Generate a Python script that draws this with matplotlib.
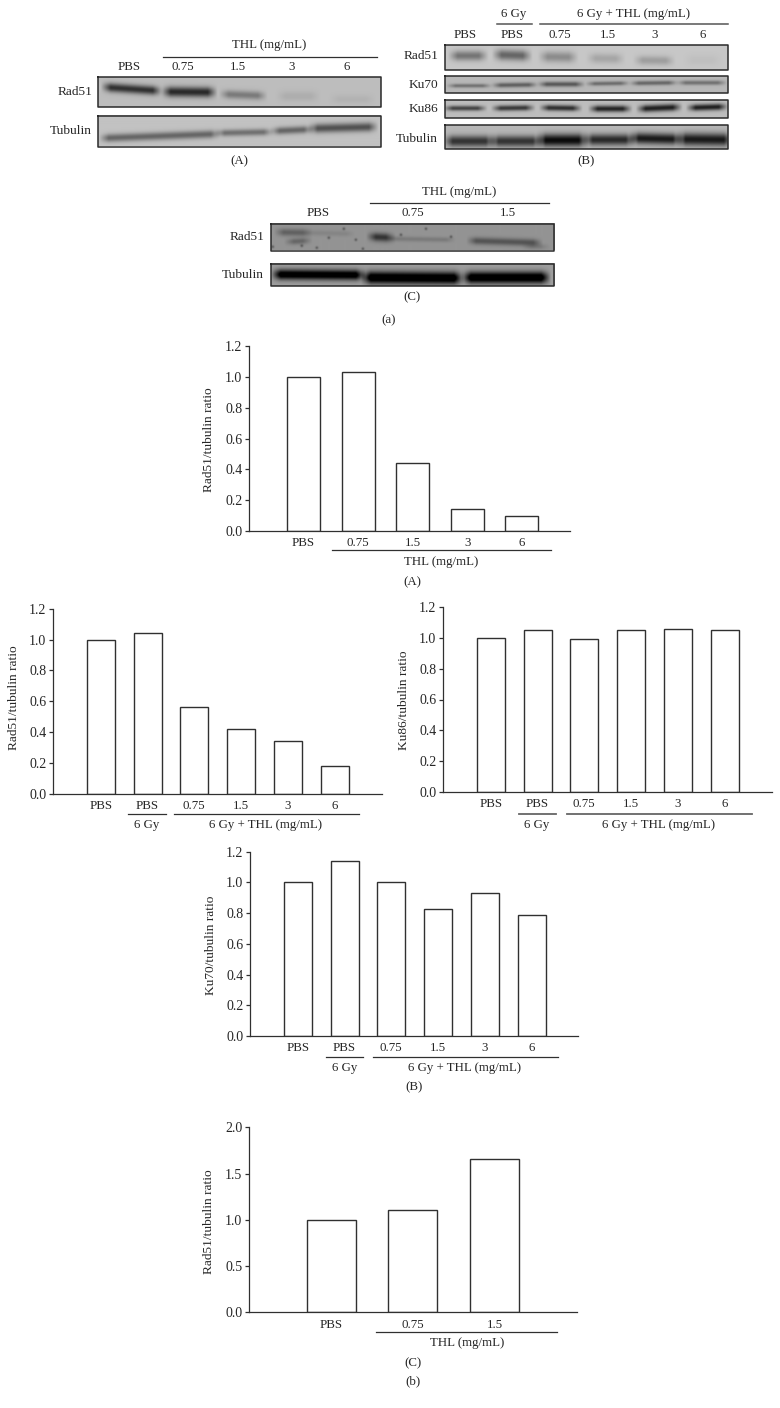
import numpy as np
import matplotlib
matplotlib.use('Agg')
import matplotlib.pyplot as plt

plt.rcParams['font.family'] = ['Liberation Serif', 'DejaVu Serif']

W, H = 780, 1408
TEXT = '#262626'
LINE = '#303030'

# bar values
doses_a = ['PBS', '0.75', '1.5', '3', '6']
rad51_a = [1.0, 1.03, 0.44, 0.14, 0.10]

doses_b = ['PBS', 'PBS', '0.75', '1.5', '3', '6']
rad51_b = [1.0, 1.04, 0.56, 0.42, 0.34, 0.18]
ku86_b = [1.0, 1.05, 0.99, 1.05, 1.06, 1.05]
ku70_b = [1.0, 1.14, 1.0, 0.83, 0.93, 0.79]

doses_c = ['PBS', '0.75', '1.5']
rad51_c = [1.0, 1.11, 1.66]

ticks_12 = [0.0, 0.2, 0.4, 0.6, 0.8, 1.0, 1.2]
ticks_20 = [0.0, 0.5, 1.0, 1.5, 2.0]

# blot bands: x0, x1, y at x0, y at x1, half thickness, darkness (picture pixels)
a_rad51 = [(105, 157, 87, 90.5, 3.2, 0.55), (165, 212, 91.5, 92, 3.6, 0.58), (223, 262, 94, 95.5, 3.0, 0.26),
           (280, 315, 96, 96, 3.5, 0.06), (333, 370, 99, 99, 3, 0.04)]
a_tub = [(103, 215, 138.5, 134.5, 2.8, 0.36), (219, 268, 133.5, 132.5, 2.4, 0.32), (274, 308, 131.5, 130, 2.6, 0.36),
         (312, 373, 129, 127.5, 3.2, 0.44)]
b_rad51 = [(452, 483, 55.5, 55.5, 3.5, 0.32), (496, 527, 54.5, 55.5, 3.8, 0.38), (542, 573, 56.5, 57, 3.8, 0.23),
           (590, 620, 58, 58.5, 3.5, 0.13), (637, 670, 60, 60.5, 3.2, 0.16), (687, 717, 60, 60, 4, 0.03)]
b_ku70 = [(450, 487, 85.5, 85.5, 1.4, 0.28), (495, 533, 85, 84.5, 1.7, 0.35), (541, 580, 84, 84, 1.8, 0.38),
          (589, 625, 83.5, 83, 1.5, 0.30), (633, 673, 83, 82.5, 1.6, 0.32), (680, 722, 82.5, 82.5, 1.6, 0.28)]
b_ku86 = [(447, 482, 108, 108, 1.8, 0.48), (495, 530, 108, 107.5, 2, 0.52), (543, 577, 107.5, 108, 2.1, 0.56),
          (592, 627, 108.5, 108.5, 2.3, 0.60), (640, 677, 108.5, 107, 2.5, 0.62), (690, 723, 107.5, 106.5, 2.3, 0.62)]
b_tub = [(447, 490, 141, 141, 4, 0.52), (493, 537, 141, 141, 4, 0.52), (540, 583, 140, 140, 4.5, 0.68),
         (587, 630, 139.5, 139.5, 4, 0.56), (633, 677, 138, 139, 4, 0.62), (680, 728, 139, 139.5, 4.5, 0.62)]
c_rad51 = [(278, 307, 232.5, 233, 2.6, 0.20), (288, 307, 242, 241, 2.2, 0.18), (307, 350, 233, 234, 2, 0.06),
           (370, 390, 237, 238, 3, 0.38), (390, 450, 239, 240, 1.8, 0.10), (470, 537, 241, 243, 2.6, 0.25),
           (525, 545, 247, 247, 2, 0.08)]
c_tub = [(275, 360, 274.5, 275, 3.5, 0.72), (365, 458, 277.5, 278, 4.2, 0.76), (465, 545, 277.5, 277.5, 4, 0.76)]
c_specks = [(343, 229), (355, 240), (328, 238), (316, 248), (272, 247), (400, 235), (450, 237), (425, 229),
            (301, 246), (362, 249)]


def draw_blot(x0, x1, y0, y1, bg, bands, specks=()):
    xs = np.arange(x0, x1, 0.5)
    ys = np.arange(y0, y1, 0.5)
    xx, yy = np.meshgrid(xs, ys)
    img = np.full(xx.shape, bg, dtype=float)
    for bx0, bx1, by0, by1, th, dark in bands:
        yc = by0 + (by1 - by0) * (xx - bx0) / (bx1 - bx0)
        env = np.clip((xx - bx0 + 5) / 10, 0, 1) * np.clip((bx1 - xx + 5) / 10, 0, 1)
        img -= dark * env * np.exp(-((yy - yc) / (th * 1.4)) ** 2)
    for sx, sy in specks:
        img -= 0.22 * np.exp(-((xx - sx) ** 2 + (yy - sy) ** 2) / 2.0)
    bg_ax.imshow(np.clip(img, 0, 1), cmap='gray', vmin=0, vmax=1, extent=(x0, x1, y1, y0),
                 aspect='auto', interpolation='bilinear', zorder=1)
    bg_ax.plot([x0, x1, x1, x0, x0], [y0, y0, y1, y1, y0], color='#2a2a2a', lw=1.1, zorder=2)


def label(x, y, s, ha='center', rot=0, size=9.3):
    bg_ax.text(x, y, s, ha=ha, va='center', rotation=rot, fontsize=size, color=TEXT, zorder=3)


def rule(x0, x1, y, color=LINE, lw=0.9):
    bg_ax.plot([x0, x1], [y, y], color=color, lw=lw, zorder=2)


def bar_panel(left, right, top, bottom, first, step, width, cats, vals, ticks, ylab, ylab_x, ylab_y):
    ax = fig.add_axes([left / W, 1 - bottom / H, (right - left) / W, (bottom - top) / H])
    ax.patch.set_alpha(0)
    pos = np.arange(len(vals))
    ax.bar(pos, vals, width=width / step, facecolor='white', edgecolor=LINE, linewidth=1.0)
    ax.set_xlim((left - first) / step, (right - first) / step)
    ax.set_ylim(ticks[0], ticks[-1])
    ax.set_xticks(pos)
    ax.set_xticklabels(cats, fontsize=9.3, color=TEXT)
    ax.set_yticks(ticks)
    ax.set_yticklabels(['%.1f' % t for t in ticks], fontsize=10, color=TEXT)
    ax.tick_params(axis='x', length=0, pad=4.5)
    ax.tick_params(axis='y', length=3, width=0.9, color=LINE, pad=2)
    ax.spines['top'].set_visible(False)
    ax.spines['right'].set_visible(False)
    ax.spines['left'].set_color(LINE)
    ax.spines['bottom'].set_color(LINE)
    ax.spines['left'].set_linewidth(0.9)
    ax.spines['bottom'].set_linewidth(0.9)
    label(ylab_x, ylab_y, ylab, rot=90, size=9.6)
    return ax


fig = plt.figure(figsize=(W / 100, H / 100), dpi=100, facecolor='white')
bg_ax = fig.add_axes([0, 0, 1, 1])
bg_ax.set_xlim(0, W)
bg_ax.set_ylim(H, 0)
bg_ax.axis('off')

# western blots, panel (a)
draw_blot(97.5, 380.5, 77, 107, 0.74, a_rad51)
draw_blot(97.5, 380.5, 116, 146.5, 0.76, a_tub)
label(269, 45, 'THL (mg/mL)')
rule(163, 377, 56.7)
for x, s in zip([129, 183, 238, 292, 346.7], doses_a):
    label(x, 67, s)
label(92, 92.3, 'Rad51', ha='right', size=9.6)
label(92, 130.5, 'Tubulin', ha='right', size=9.6)
label(239, 161, '(A)')

draw_blot(444.5, 727.5, 45, 70, 0.78, b_rad51)
draw_blot(444.5, 727.5, 76, 93, 0.72, b_ku70)
draw_blot(444.5, 727.5, 100, 118, 0.74, b_ku86)
draw_blot(444.5, 727.5, 125, 149, 0.72, b_tub)
label(514, 14, '6 Gy')
rule(497, 532, 23.7, color='#555555', lw=1.1)
label(633.3, 14, '6 Gy + THL (mg/mL)')
rule(540, 727.7, 23.7, color='#555555', lw=1.1)
for x, s in zip([465, 512.3, 560, 607.7, 655, 702.7], doses_b):
    label(x, 35, s)
for y, s in zip([56, 85, 109, 139], ['Rad51', 'Ku70', 'Ku86', 'Tubulin']):
    label(438.3, y, s, ha='right', size=9.6)
label(586, 161, '(B)')

draw_blot(270.5, 554, 223.5, 250.5, 0.58, c_rad51, c_specks)
draw_blot(270.5, 554, 263.5, 286, 0.62, c_tub)
label(459, 192.3, 'THL (mg/mL)')
rule(370, 549.3, 203.3)
for x, s in zip([318, 412.7, 507.7], doses_c):
    label(x, 213.3, s)
label(264, 237.3, 'Rad51', ha='right', size=9.6)
label(264, 274.7, 'Tubulin', ha='right', size=9.6)
label(411.7, 297.3, '(C)')
label(388.3, 320.7, '(a)')

# bar charts, panel (b)
bar_panel(249.3, 570, 346, 531, 303.5, 54.6, 33, doses_a, rad51_a, ticks_12,
          'Rad51/tubulin ratio', 209.3, 440)
rule(331.7, 551, 550.3)
label(441, 562.3, 'THL (mg/mL)')
label(412.3, 582.3, '(A)')

bar_panel(53.3, 381.7, 608.7, 793.7, 100.7, 46.8, 28, doses_b, rad51_b, ticks_12,
          'Rad51/tubulin ratio', 14.3, 698)
rule(128.3, 165.7, 814.3)
rule(174, 358.7, 814.3)
label(146.7, 825, '6 Gy')
label(266, 825, '6 Gy + THL (mg/mL)')

bar_panel(443.3, 771.7, 607, 792, 490.7, 46.8, 28, doses_b, ku86_b, ticks_12,
          'Ku86/tubulin ratio', 404.3, 700)
rule(519, 555.7, 814, color='#666666', lw=1.3)
rule(567.3, 752.3, 814, color='#666666', lw=1.3)
label(537, 824.7, '6 Gy')
label(658.7, 824.7, '6 Gy + THL (mg/mL)')

bar_panel(250.3, 578, 851.7, 1036, 297.7, 46.8, 28, doses_b, ku70_b, ticks_12,
          'Ku70/tubulin ratio', 211, 945)
rule(326.3, 363.3, 1057.3)
rule(373.3, 558, 1057.3)
label(344.7, 1068.3, '6 Gy')
label(465, 1068.3, '6 Gy + THL (mg/mL)')
label(414.3, 1087.7, '(B)')

bar_panel(249.3, 576.7, 1127.3, 1312.3, 331.2, 81.7, 49, doses_c, rad51_c, ticks_20,
          'Rad51/tubulin ratio', 209, 1221.7)
rule(376, 556.7, 1332.3)
label(466.7, 1343.3, 'THL (mg/mL)')
label(413.3, 1363, '(C)')
label(413.3, 1381, '(b)')

fig.savefig('out.png', dpi=100)
